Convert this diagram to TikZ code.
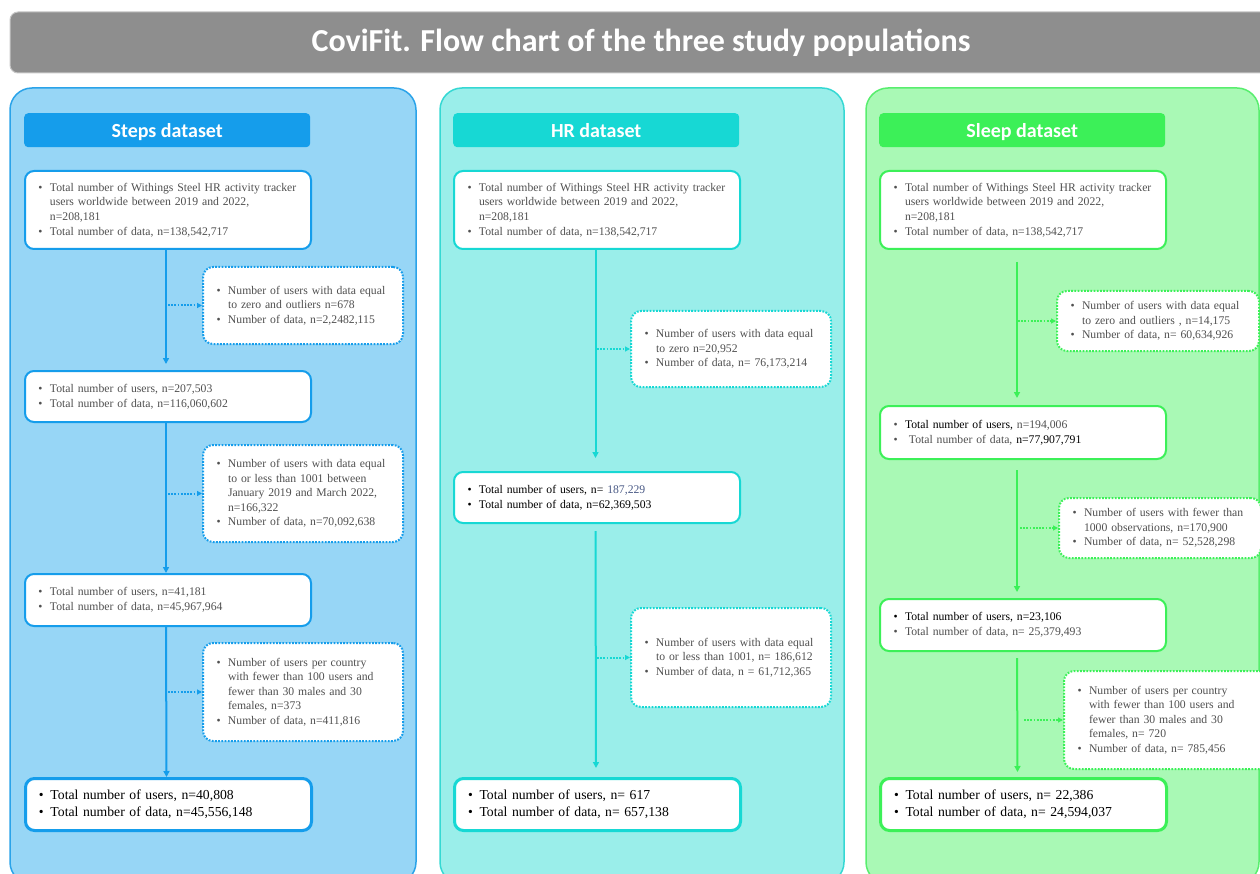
\documentclass[tikz,border=0pt]{standalone}
\usepackage{fontspec}
\setmainfont{Liberation Serif}
\newfontfamily\headfont{Carlito}
\usepackage{xcolor}
\usetikzlibrary{arrows.meta}
\usetikzlibrary{positioning}

\definecolor{titlegray}{HTML}{8E8E8E}
\definecolor{textgray}{HTML}{505050}
\definecolor{numblue}{HTML}{4A5A86}
\definecolor{stepsfill}{HTML}{97D6F6}
\definecolor{stepsline}{HTML}{2AA3E9}
\definecolor{stepsdark}{HTML}{159DEB}
\definecolor{hrfill}{HTML}{9AEEEA}
\definecolor{hrline}{HTML}{35D8D3}
\definecolor{hrdark}{HTML}{17D8D4}
\definecolor{sleepfill}{HTML}{A9F9B5}
\definecolor{sleepline}{HTML}{58EE6E}
\definecolor{sleepdark}{HTML}{3CF058}

% bullet line and continuation line
\newcommand{\bl}[1]{\makebox[13pt][l]{\hspace{1.5pt}\textbullet}\mbox{#1}}
\newcommand{\cl}[1]{\hspace*{13pt}\mbox{#1}}
\newcommand{\dk}[1]{\textcolor{black}{#1}}

\tikzset{
  panel/.style={draw=#1line, fill=#1fill, line width=1.5pt, rounded corners=22pt},
  title bar/.style={draw=gray!45, fill=titlegray, line width=1pt, rounded corners=8pt,
    minimum width=1262pt, minimum height=61pt, text=white,
    font=\headfont\bfseries\fontsize{32}{36}\selectfont},
  head bar/.style={fill=#1dark, rounded corners=4pt, anchor=north west,
    minimum width=286pt, minimum height=34pt, text=white,
    text height=14pt, text depth=0pt,
    font=\headfont\bfseries\fontsize{20}{23}\selectfont},
  main box/.style={draw=#1dark, fill=white, line width=2pt, rounded corners=9pt,
    anchor=north west, align=left, inner xsep=12pt, inner ysep=0pt,
    text width=262pt, text=textgray, font=\fontsize{11.7}{14.6}\selectfont},
  final box/.style={main box=#1, line width=3pt, text=black,
    font=\fontsize{13.7}{17}\selectfont},
  excl box/.style={draw=#1dark, fill=white, line width=2pt, rounded corners=10pt,
    dash pattern=on 1.8pt off 1.4pt, anchor=north west, align=left,
    inner xsep=12pt, inner ysep=0pt, text width=176pt, text=textgray,
    font=\fontsize{11.7}{14.6}\selectfont},
  flow edge/.style={draw=#1dark, line width=2pt, -{Triangle[length=6pt,width=6pt]}},
  excl edge/.style={draw=#1dark, line width=2pt, dash pattern=on 1.8pt off 1.4pt,
    -{Triangle[length=5pt,width=5pt]}},
}

\begin{document}
\begin{tikzpicture}[x=1pt, y=-1pt]

  \useasboundingbox (0,0) rectangle (1260,874);

  % Title and panels
  \node[title bar] (title) at (641,42.5) {CoviFit. Flow chart of the three study populations};
  \draw[panel=steps] (10,88) rectangle (416,884);
  \draw[panel=hr] (440,88) rectangle (844,884);
  \draw[panel=sleep] (866,88) rectangle (1259,884);

  \node[head bar=steps] (stepshead) at (24,113) {Steps dataset};
  \node[head bar=hr] (hrhead) at (453,113) {HR dataset};
  \node[head bar=sleep] (sleephead) at (879,113) {Sleep dataset};

  % Steps nodes
  \node[main box=steps, minimum height=78pt] (s1) at (24,170)
    {\bl{Total number of Withings Steel HR activity tracker}\\
     \cl{users worldwide between 2019 and 2022,}\\
     \cl{n=208,181}\\
     \bl{Total number of data, n=138,542,717}};
  \node[excl box=steps, minimum height=77pt] (sx1) at (202,266)
    {\bl{Number of users with data equal}\\
     \cl{to zero and outliers n=678}\\
     \bl{Number of data, n=2,2482,115}};
  \node[main box=steps, minimum height=51pt] (s2) at (24,370)
    {\bl{Total number of users, n=207,503}\\
     \bl{Total number of data, n=116,060,602}};
  \node[excl box=steps, minimum height=97pt] (sx2) at (202,444)
    {\bl{Number of users with data equal}\\
     \cl{to or less than 1001 between}\\
     \cl{January 2019 and March 2022,}\\
     \cl{n=166,322}\\
     \bl{Number of data, n=70,092,638}};
  \node[main box=steps, minimum height=52pt] (s3) at (24,573)
    {\bl{Total number of users, n=41,181}\\
     \bl{Total number of data, n=45,967,964}};
  \node[excl box=steps, minimum height=98pt] (sx3) at (202,642)
    {\bl{Number of users per country}\\
     \cl{with fewer than 100 users and}\\
     \cl{fewer than 30 males and 30}\\
     \cl{females, n=373}\\
     \bl{Number of data, n=411,816}};
  \node[final box=steps, minimum height=52pt] (s4) at (24,777)
    {\bl{Total number of users, n=40,808}\\
     \bl{Total number of data, n=45,556,148}};

  % HR nodes
  \node[main box=hr, minimum height=78pt] (h1) at (453,170)
    {\bl{Total number of Withings Steel HR activity tracker}\\
     \cl{users worldwide between 2019 and 2022,}\\
     \cl{n=208,181}\\
     \bl{Total number of data, n=138,542,717}};
  \node[excl box=hr, minimum height=76pt] (hx1) at (630,310)
    {\bl{Number of users with data equal}\\
     \cl{to zero n=20,952}\\
     \bl{Number of data, n= 76,173,214}};
  \node[main box=hr, minimum height=51pt] (h2) at (453,471)
    {\dk{\bl{Total number of users, n= \textcolor{numblue}{187,229}}}\\
     \dk{\bl{Total number of data, n=62,369,503}}};
  \node[excl box=hr, minimum height=99pt] (hx2) at (630,607)
    {\bl{Number of users with data equal}\\
     \cl{to or less than 1001, n= 186,612}\\
     \bl{Number of data, n = 61,712,365}};
  \node[final box=hr, minimum height=52pt] (h3) at (453,777)
    {\bl{Total number of users, n= 617}\\
     \bl{Total number of data, n= 657,138}};

  % Sleep nodes
  \node[main box=sleep, minimum height=78pt] (p1) at (879,170)
    {\bl{Total number of Withings Steel HR activity tracker}\\
     \cl{users worldwide between 2019 and 2022,}\\
     \cl{n=208,181}\\
     \bl{Total number of data, n=138,542,717}};
  \node[excl box=sleep, minimum height=60pt, text width=178pt] (px1) at (1056,290)
    {\bl{Number of users with data equal}\\
     \cl{to zero and outliers , n=14,175}\\
     \bl{Number of data, n= 60,634,926}};
  \node[main box=sleep, minimum height=53pt] (p2) at (879,405)
    {\bl{\dk{Total number of users,} n=194,006}\\
     \bl{\ Total number of data, \dk{n=77,907,791}}};
  \node[excl box=sleep, minimum height=60pt, text width=178pt] (px2) at (1058,497)
    {\bl{Number of users with fewer than}\\
     \cl{1000 observations, n=170,900}\\
     \bl{Number of data, n= 52,528,298}};
  \node[main box=sleep, minimum height=52pt] (p3) at (879,598)
    {\dk{\bl{Total number of users, n=23,106}}\\
     \bl{Total number of data, n= 25,379,493}};
  \node[excl box=sleep, minimum height=98pt, text width=183pt] (px3) at (1063,670)
    {\bl{Number of users per country}\\
     \cl{with fewer than 100 users and}\\
     \cl{fewer than 30 males and 30}\\
     \cl{females, n= 720}\\
     \bl{Number of data, n= 785,456}};
  \node[final box=sleep, minimum height=52pt] (p4) at (879,777)
    {\bl{Total number of users, n= 22,386}\\
     \bl{Total number of data, n= 24,594,037}};

  % Connect nodes
  \draw[flow edge=steps, shorten >=6pt] ([xshift=-2pt]s1.south) -- ([xshift=-2pt]s2.north);
  \draw[flow edge=steps] ([xshift=-2pt]s2.south) -- ([xshift=-2pt]s3.north);
  \draw[flow edge=steps] ([xshift=-2pt]s3.south) -- ([xshift=-2pt]s4.north);
  \draw[excl edge=steps] (sx1.west -| s1.south) -- (sx1.west);
  \draw[excl edge=steps] (sx2.west -| s1.south) -- (sx2.west);
  \draw[excl edge=steps] (sx3.west -| s1.south) -- (sx3.west);

  \draw[flow edge=hr, shorten >=13pt] ([xshift=-1.5pt]h1.south) -- ([xshift=-1.5pt]h2.north);
  \draw[flow edge=hr, shorten <=7pt, shorten >=9pt] ([xshift=-1.5pt]h2.south) -- ([xshift=-1.5pt]h3.north);
  \draw[excl edge=hr] (hx1.west -| h1.south) -- (hx1.west);
  \draw[excl edge=hr] (hx2.west -| h1.south) -- (hx2.west);

  \coordinate (pl) at ([xshift=-5pt]p1.south);
  \draw[flow edge=sleep, shorten <=12pt, shorten >=7pt] ([xshift=-6pt]p1.south) -- ([xshift=-6pt]p2.north);
  \draw[flow edge=sleep, shorten <=10pt, shorten >=6pt] ([xshift=-6pt]p2.south) -- ([xshift=-6pt]p3.north);
  \draw[flow edge=sleep, shorten <=6pt, shorten >=5pt] ([xshift=-6pt]p3.south) -- ([xshift=-6pt]p4.north);
  \draw[excl edge=sleep] (px1.west -| pl) -- (px1.west);
  \draw[excl edge=sleep, shorten <=2pt] (px2.west -| pl) -- (px2.west);
  \draw[excl edge=sleep, shorten <=6pt] (px3.west -| pl) -- (px3.west);

\end{tikzpicture}
\end{document}
